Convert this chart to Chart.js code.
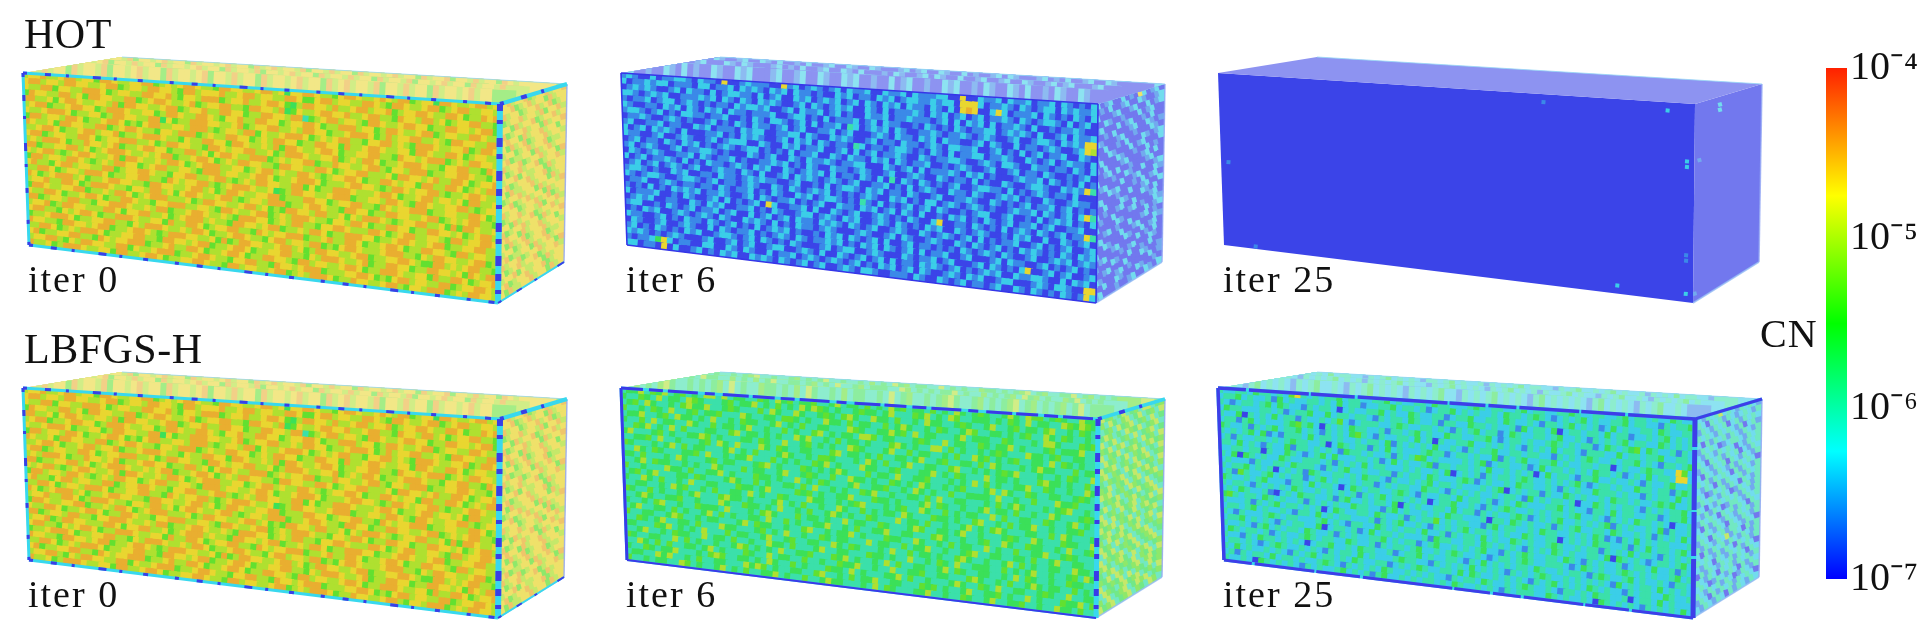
<!DOCTYPE html>
<html><head><meta charset="utf-8">
<script src="https://cdn.jsdelivr.net/npm/chart.js@4/dist/chart.umd.js"></script>
<style>html,body{margin:0;padding:0;background:#fff;overflow:hidden}
#main{position:absolute;left:0;top:0;filter:blur(.55px)}#bar{position:absolute;left:1780px;top:0}</style>
</head><body><canvas id="main" width="1920" height="630"></canvas><canvas id="bar" width="140" height="630"></canvas>
<script>
// Estimated CN levels: each digit L means CN = 10^(-7 + L/3)
const iter0Front=[
"67786678867758876677885676788766588776678867477887665788766787688567748876678867",
"78867768877667885677688776588677786678867766887557886776688765887667885678866776",
"76688577668887567766887786577688856778667887546887768667886778567788766887566878",
"58776688675887766885678876678567788665887768457667887786678866587768867567788665",
"88667578876677685887766788567786688775668877688356788677658876678877566887767885",
"67885667887756888766775688766887657786688775677887566888677568876678856776688766",
"76678887566775688776688475668887766785677886676887756678887568677886676588776688",
"58867768875667887565788667768886567768857667888756767886657788676588876677856887",
"87667588776688567887665776888567668877567688775668877586678876677588766887567766",
"66788756678867785667888766576688775887667685887667887566778866587767888567688776",
"78856776688756778886675688776658876778866756888766778567688756678887665778866587",
"67688875668776785667887756688675788766888567677885668776678865776888566778876657",
"88566778867567888766767885667887567688776658877668875677886667588776786688756778",
"76788656788766785887667688756788866775678867668876567788756688767758866887567688",
"58867768876567688775678866776588867766788756678887566678877656887677886566788766",
"78665788677668856778876657788667886567688776688575668887666788756678867767588667",
"66887567768887566778866587677886567888766745688776678885667768876588766778865677",
"87567888675667887766588776678867568876677885666887756778866587677888566776688756",
"67786688756888766577688675788766788656776888566788766588775668877667885676788665",
"58876677885667688756788866675688776678867565887768866757688876567788667585887667",
"76688756678875668876657788866776588766788567688876657768875668877566887767567886",
"88567768866577888766768856678876676588877567688665778876668875678866776588677887",
"67785688776668875778866756788867665887767885667688756688877566788766788566778866",
"78866576788756688876677586688756778866587677888566786688756678875668877658867766",
"56678887566778866576888766768875667887665788677688565788766678886657688776678856",
"87766588776788566788765688877667585688776678867568877667885667788765588676788665",
"66887567688875667788665887767885667887566778866576888766785668877566887767587688",
"78566778866587677888566786688756678875668877658867766788756688876677586688756778",
"67788657688776688576678885667887665778866587767888566677887565788677668856778876",
"86675688876677588667887566778876658867766788567688875668776678865776888567688776"];
const iter0Top=[
"76786776587767867758776786775677867768577678677586776786776857767867785776786775",
"67857768677586776785776867758676786775867768577678677586776785776867758677678677",
"78677586776857767867758677678677586786776857768677586776786775867785776867758767",
"67758677678577686775867767867758677685776786775867768677586776857767867758677686",
"77686775867768577678677586776785776867758677678677586786776857768677586776786775"];
const iter0Right=[
"7786778567786778","6778567867758677","7867756778678567","8567786776857786","6775867785677867",
"7856778677586778","6787758677867757","7758678567786776","8677567867785667","7785667758678677",
"6867785677867758","7756786778567786","8677857667758677","6785677867785677","7758667786775867",
"8567786775867768","6778567867758677","7867756778678567","8567786776857786","6775867785677867",
"7856778677586778","6787758677867757","7758678567786776","8677567867785667","7785667758678677",
"6867785677867758","7756786778567786","8677857667758677","6785677867785677","7758667786775867"];
const hot6Front=[
"12100201122102110700121110071201210120211200211202111220070021120211201120210102",
"20112122011102201120212102120211010021201102120122112122077720112102101220212112",
"01212100120211020122110201200212012120120210212021102102078700272011120210102102",
"22101212001112120210210212100120210121200210201112102120120120112102101221020120",
"10112012201210101102122120012021120120100211201121110120202120201121020010112100",
"21001102120210212021101112001220102011120120211001021010210112201212102001202112",
"12210120102211011200102102210120201120320121202100112101121012100120012210212177",
"01121001210100120102102110120120011201200012102110212021100120210020110121001276",
"12001120110021201110212200112202100212100120110211012102211200120102012011200210",
"20120212102000112010212100120212021011032011012210102102011220112100210120121102",
"21100120012100120122200210021201120012020120112100210112210012102210021101102102",
"01201102102120101210122010102011200210211021202101120010121001200120110210010120",
"12012100120112210100021012002102112101122000210120201112102120100012112021010201",
"02101210011202101120100112120102100211012100120012100210110201002100122100212173",
"20120112102010211012102120021012120201102102030210210101200122110201012101102000",
"01201201210120012110210200120212101210120011201020121002110210012120100210012110",
"12210100212001102110121211001200102012210212011021001200112100210101201120120101",
"21012210012210120110121002102101212010101210021201022012101210100121120210120273",
"01120012101101102101120102100212012210103102010120120210010122001200102012120102",
"10102010212120112100120210112010120021102120120210200102120102101201120120011200",
"20111200102100120201012072001120200210120012101021002700110210102012102101201173",
"01212001100210212001120102100122012102120012102101021200210121001021200200210120",
"12200102101201120120020120120211021210210120012100210121012020101120012010120012",
"01021200121012102100212102010211012100012100120210012100210210120102121010210212",
"21100120102110210120102012120100102120210120200120110101021012102100120012120121",
"02100120012100202101120101210210112120102120210120201120012000120211001201012010",
"12010210102120012210120210102100012012200121000210112012000120210102700120120012",
"21210101210001200120120012200121020021012012020110212101201012120021122100202120",
"10112472011002200210210020112012101210120102120120210012102120012200012102210077",
"22011070200120102120021210210120120012102210011102100210120110120021021010210172"];
const hot6Top=[
"12020012001002102102010012021020120021020100210012010200120100210021001201002102",
"00120102100210012010021200120200210012010002120012001020210012010200210021001200",
"21000120021001200210200102001200210021000120120021002010012021000120102001200210",
"00210120012000210210001201020012002102000102100120210020012001200210012012000120",
"12001002102010021002120001200120021002120010020120010021200102100210200102100210"];
const hot6Right=[
"2012002010720120","0102001200210012","2000120012002012","0021001000201200","1200020120010200",
"0010200012002101","2100012001000210","0020010200021012","1002100020120002","0200021001002010",
"1020001200012020","0012020010001200","2000100210020012","0120002001200021","0002120001020120",
"1200010020012002","0020002100021020","2010012002000120","0100200012010021","2000021000002012",
"0012010020012010","1200002001200021","0021000210020120","2000120000201020","0120001012000210",
"1000210020010200","0012000200021001","2100012010000201","0020021000210010","1200010012002102"];
const lb6Front=[
"34463546345343663634433543645344533463443534364534435343643454334643655345433644",
"43354363443654333453446343534364654343345443463335463436533444343543634433654654",
"34536433435644633454333536433643345435643364435334364433454334633453443563343543",
"53343543633453445333643344355434336443534433534643343543346533443434533643543343",
"34463345364434363343544334634353344333654334464536344333463444335433343664333545",
"43353634433643353443463343353433563434436653443334543363443354344634333453444633",
"33546343635333443356344343433646334353443433356434336635343343454333644345334433",
"46333453433446534333443543363345343433654333463353443343533645343453344363543433",
"33445363343334536436333643543344333563443435334434633453344353643334346443335344",
"54333434635344333463435333464334355433343643533463344335633434345463334334354336",
"33643543334453633434463335343433546343336443345333446343543336344343335644343353",
"44353334364333453443334563433354343464333534436334453334343635343344633543343364",
"33463544334343364333534433463345433533644343354343643343453334636433543344334543",
"53343336443533446343335443433634354333463344533436434335334444363343353336445333",
"34534633344354333464335343344353633434335463343344353633443334353464333434563343",
"43364353343633443335443463333545343344633354434333463543343346344353343364333454",
"33443343645334353344363433543336443343456333434533643353434433635334433543346343",
"54335343343463335644343334634353343364335343443643335443433563343534463343344533",
"33464334453343336433544343633435334643433543336344353343346343564333443353643334",
"43343563343354443633343564333534434336344335433346533443463343334543364333544336",
"34633443534334635343344363353433446334353344633443335643343345336433544334363345",
"53344334653343443334635443343356334344634333544336433435344336343353344633454333",
"33543463344353336443334534363343354344333634433534463343345633443344353346334433",
"44333546343436333534433463345334433643543334363353443433564334334635343344336443",
"33463343544336344353343364435333463344333544343363343543633444335343463343345364",
"54334433635343343346534343633445333546343343635334433463543344334363543343354433",
"33643535334434634333543363443353343354463343363344533443335643343533464344335343",
"43354344633343565334434364335343335443634333446353343334643354363344334543363344",
"34433646334353344333646534334433563343534463344333545343346334453433634333544635",
"53343443365343346343533446343353346443334363543334463343354334633445334336443533"];
const lb6Top=[
"43453464334543436334534435334346433453434356433434533463435343454345634334534345",
"34534334543633453434453463344353534434334563433443534343634534345433463453343456",
"53346435343343456334334534346334334353436453443363434335443434563453344634534345",
"34433543436443353435346334434534363345344433653434344634335343453645343354634343",
"43534356433434345363433544343536433435344334363453343456433453434563453434534634"];
const lb6Right=[
"3645346345366345","4536435634634536","6345364563453634","3465343654634563","5634634536345634",
"3546356345364536","4635463456435645","5364534635463436","3645634536456345","4563543645634536",
"6435456346356435","3546354635634563","4656345365436345","6345463543645634","3463564356434563",
"5634536456354636","4563645346356445","3645635463534563","6456346354635634","3536456435634536",
"4645363563456345","5364634546345634","3635456354634563","4564356436356345","6435634546354636",
"3546365345635645","5634546363543645","4365435645634536","6536345634656345","3645634563543653"];
const lb25Front=[
"32233243323257323233423322334232233243322234323322342332233432233223423323224322",
"23342322314232233232423312233423323123342323223243323432123234232233423322132334",
"32123323424322132332023223342322432233123342233243223213323423231242322332432233",
"24332223323123342242332332132332432231332243323223142332402332332423312232342323",
"32240323242331322323521233322343223323213234233124322332342232132323423322432323",
"23313423222345342032324332231332342322433223342123323223432323312432345243223132",
"43223132342334232132324532132233242303223342232323213232423321333224233233422332",
"32323424121333242332322323324132323242232132334223323322132323432232334232133234",
"23132233232343322302432331324232223433123323224132342233423223323302322343322752",
"33242321322413323232143323223132354232222323412332231242332323243323123242332772",
"22332330322432123424222332312423223413323323242232323024233213342232232132234223",
"32404323224322333231323242332223232232402323132332343223232342123323224332331343",
"23222132233243332132342232233132332432223431232232433223213232243332322132332423",
"32334232302323143223323243321322323423323222323402323313224323223243323223434223",
"23153223423233123423223233123233224332132323223233214232332302243232332132323342",
"43223234222133242332024323322343213223324233231232432223342322133242332233123342",
"32332132323243223232323132342332323023342232132343223232332342232132324332320223",
"23243223102324332231342232332403232233242331323223431232342232323413232232413223",
"45323324323223132323224332213423223232433222303324323223132342233243223231323242",
"32223132342332323024322332432231323352323322134233223243322323243121324232332223",
"23323423223213324232332223132342232132323423323232243223302323243322313242332342",
"32132223432332223423213322432323324223132332423224323223432232331323242332132323",
"23342323213233224023323124233232223143322332432323213232432322332404323212332342",
"32232134232332432231323223342323312342232323422132343223324321323223123324223132",
"24323323123223432332243223132332342232343223212332343223332124323223432323223423",
"32213243323232023342232433223123342322332132423232332432232332134322342322321332",
"23323212343223232132332423222343322132323242323213232343223232323214232332423232",
"32423223232132342332324322331232343223324243223232321323423232432322132332243223",
"23132332423323223432132323243223232322132332432232343223213323243322302332423222",
"32232043232321323223423231342232323323243223232132333224323223204323232132323242"];
const lb25Top=[
"32342321323234232313232423321323234223213232342312232342321332342321323234232312",
"23213234233231232342323213234232321323234232321332423213234223213234233231232342",
"34232231323242332213234232321332342322313232342332213234223234232231323242332213",
"21323422321323234232313232342322132342323213234232313223423221323422321323234232",
"32321342323213234223213234232321323234221323234232321342323232134232321323422321"];
const lb25Right=[
"3213236232132321","2320323132123213","3132132302313232","1323213232130231","3203132313213213",
"2132320123321323","3213213232021323","1320323132302132","2132132303213213","3203213213132320",
"1323132320313213","3213203132231323","2320132313203213","3132321320132313","1320213232313213",
"3213132013321323","2132320323132032","3203132132132313","1323213203213213","3132032313321320",
"2313213261320313","3203132313213213","1323213132032313","3213203213231320","2031321323132032",
"1321320323132313","3232013213203132","1321323132013213","2132031323132320","3213213203132132"];
// Isolated cells on the nearly uniform HOT iter 25 box: [col, row, level] on a 96x36 / 20x36 grid
const hot25FrontSpots=[[65,1,1],[90,1,2],[94,10,2],[94,11,2],[94,27,1],[94,28,1],[80,34,2],[94,34,2],[1,18,1],[6,35,1]];
const hot25RightSpots=[[7,1,2],[7,2,2],[1,10,1],[0,34,1]];
const hot25Cols=96, hot25Rows=36, hot25RightCols=20;
const rowLabels=["HOT","LBFGS-H"];
const iterLabels=["iter 0","iter 6","iter 25"];
const colorbarTicks=[1e-7,1e-6,1e-5,1e-4];
const colorbarTickLabels=["10\u207B\u2077","10\u207B\u2076","10\u207B\u2075","10\u207B\u2074"];
const colorbarTitle="CN";

// ---- layout / style ----
const BLUE="#3a3fe6", CY="#38d8ee";
const A=[23,73],B=[500,104],C=[498,303],D=[29,245],E=[122,57],F=[567,84],G=[564,262];
const jetStops=[[0,0,0,255],[.25,0,255,255],[.5,0,255,0],[.75,255,255,0],[1,255,32,0]];
const surfaceStops=[[0,0,0,255],[.25,0,255,255],[.5,0,255,0],[.75,255,255,0],[1,255,110,0]];
function jet(t){t=Math.max(0,Math.min(1,t));for(let i=1;i<surfaceStops.length;i++){const a=surfaceStops[i-1],b=surfaceStops[i];
  if(t<=b[0]){const f=(t-a[0])/(b[0]-a[0]);return [1,2,3].map(k=>a[k]+(b[k]-a[k])*f);}}return surfaceStops[4].slice(1);}
function shade(cn,white){const c=jet((Math.log10(cn)+7)/3);
  const f=[59+.682*c[0],68+.61*c[1],48+.72*c[2]].map(v=>Math.round(v+(255-v)*white));
  return `rgb(${f[0]},${f[1]},${f[2]})`;}
const levelToCN=L=>Math.pow(10,-7+L/3);
const lerp=(p,q,t)=>[p[0]+(q[0]-p[0])*t,p[1]+(q[1]-p[1])*t];
const onQuad=(q,u,v)=>{const t=lerp(q[0],q[1],u),b=lerp(q[3],q[2],u),p=lerp(t,b,v);return {x:p[0],y:p[1]};};
const shift=(q,dx,dy)=>q.map(p=>[p[0]+dx,p[1]+dy]);
const datasets=[];
function face(quad,white,grid,spots,sCols,sRows,rot){
  datasets.push({type:'line',order:5,data:[...quad,quad[0]].map(p=>({x:p[0],y:p[1]})),fill:'shape',showLine:true,borderWidth:0,
    backgroundColor:shade(1e-7,white),pointRadius:0});
  const pts=[],cols=[];let size=0;
  if(grid){const R=grid.length;grid.forEach((row,j)=>{const Cn=row.length;for(let i=0;i<Cn;i++){
      pts.push(onQuad(quad,(i+.5)/Cn,(j+.5)/R));cols.push(shade(levelToCN(+row[i]),white));}});
    const w=Math.hypot(quad[1][0]-quad[0][0],quad[1][1]-quad[0][1])/grid[0].length;
    const h=Math.max(Math.hypot(quad[3][0]-quad[0][0],quad[3][1]-quad[0][1]),Math.hypot(quad[2][0]-quad[1][0],quad[2][1]-quad[1][1]))/R;
    size=Math.max(w,h)*1.2;}
  if(spots){spots.forEach(s=>{pts.push(onQuad(quad,(s[0]+.5)/sCols,(s[1]+.5)/sRows));cols.push(shade(levelToCN(s[2]),white));});size=4;}
  if(pts.length)datasets.push({type:'scatter',order:4,data:pts,clipQuad:quad,clip:false,pointStyle:'rect',pointRadius:size/Math.SQRT2,
    pointRotation:rot,pointBorderWidth:0,pointBackgroundColor:cols,showLine:false});
}
function edge(p,q,color,width,dash,order){datasets.push({type:'line',order:order,data:[{x:p[0],y:p[1]},{x:q[0],y:q[1]}],
  borderColor:color,borderWidth:width,borderDash:dash||[],pointRadius:0,fill:false,borderCapStyle:'butt'});}
const DASH1=[4,18,6,15,3,24,8,13,3,21,5,27],DASH2=[7,9,4,14,9,7,5,12,10,8],DASH3=[28,3,60,2,44,3,90,2,36,3],DASH4=[22,6,14,5,30,7,10,8,26,4];
const panels=[
 {dx:0,dy:0,lab:0,row:0,f:iter0Front,t:iter0Top,r:iter0Right,e:'iter0'},
 {dx:598,dy:0,lab:1,row:null,f:hot6Front,t:hot6Top,r:hot6Right,e:'thin'},
 {dx:1195,dy:0,lab:2,row:null,spots:true,e:'none'},
 {dx:0,dy:315,lab:0,row:1,f:iter0Front,t:iter0Top,r:iter0Right,e:'iter0'},
 {dx:598,dy:315,lab:1,row:null,f:lb6Front,t:lb6Top,r:lb6Right,e:'lb6'},
 {dx:1195,dy:315,lab:2,row:null,f:lb25Front,t:lb25Top,r:lb25Right,e:'lb25'}];
panels.forEach(P=>{
  const [a,b,c,d,e,f,g]=shift([A,B,C,D,E,F,G],P.dx,P.dy);
  face([e,f,b,a],.42,P.t,null,0,0,3);
  face([b,f,g,c],.28,P.r,P.spots?hot25RightSpots:null,hot25RightCols,hot25Rows,-15);
  face([a,b,c,d],0,P.f,P.spots?hot25FrontSpots:null,hot25Cols,hot25Rows,5.3);
  edge(e,f,'rgba(150,215,245,.8)',1.2,null,3);edge(f,g,'rgba(150,170,245,.8)',1.5,null,3);edge(g,c,'rgba(150,190,245,.8)',1.5,null,3);
  if(P.e==='iter0'){
    [[a,b,3],[a,d,3],[d,c,3],[b,c,6],[b,f,4],[c,g,2]].forEach(s=>{edge(s[0],s[1],CY,s[2],null,2);
      edge(s[0],s[1],BLUE,s[2],s[2]>4?DASH2:DASH1,1);});
  }else if(P.e==='thin'){
    [[a,b],[a,d],[d,c],[b,c]].forEach(s=>edge(s[0],s[1],'#3636e8',1.6,null,2));
  }else if(P.e==='lb6'){
    [[a,b,3,DASH4],[a,d,3,null],[d,c,2,null],[b,c,5,DASH2],[b,f,3.5,DASH1]].forEach(s=>{edge(s[0],s[1],CY,s[2],null,2);edge(s[0],s[1],'#3a3ae8',s[2],s[3],1);});
  }else if(P.e==='lb25'){
    [[a,b,3.5,DASH3],[a,d,3.5,null],[d,c,3,DASH3],[b,c,5,DASH3],[b,f,3,null]].forEach(s=>{edge(s[0],s[1],CY,s[2],null,2);edge(s[0],s[1],'#3e3ee8',s[2],s[3],1);});
  }
});
const clipPlugin={id:'faceClip',
  beforeDatasetDraw(ch,args){const q=ch.data.datasets[args.index].clipQuad;if(!q)return;const c=ch.ctx,X=ch.scales.x,Y=ch.scales.y;
    c.save();c.beginPath();q.forEach((p,i)=>{const x=X.getPixelForValue(p[0]),y=Y.getPixelForValue(p[1]);i?c.lineTo(x,y):c.moveTo(x,y);});c.closePath();c.clip();},
  afterDatasetDraw(ch,args){if(ch.data.datasets[args.index].clipQuad)ch.ctx.restore();}};
const textPlugin={id:'panelText',afterDraw(ch){const c=ch.ctx;c.save();c.fillStyle='#111';c.textBaseline='alphabetic';
  const FONT='"Liberation Serif"';
  c.font='42px '+FONT;c.letterSpacing='.5px';
  panels.forEach(P=>{if(P.row!==null)c.fillText(rowLabels[P.row],24+P.dx,48+P.dy);});
  c.font='38px '+FONT;c.letterSpacing='2px';
  panels.forEach(P=>{c.fillText(iterLabels[P.lab],28+P.dx,292+P.dy);});
  c.font='40px '+FONT;c.letterSpacing='1px';c.fillText(colorbarTitle,1760,347);
  c.restore();}};
new Chart(document.getElementById('main'),{type:'scatter',data:{datasets},plugins:[clipPlugin,textPlugin],
 options:{responsive:false,animation:false,devicePixelRatio:1,layout:{padding:0,autoPadding:false},
  plugins:{legend:{display:false},tooltip:{enabled:false}},events:[],
  scales:{x:{type:'linear',min:0,max:1920,display:false},y:{type:'linear',min:0,max:630,reverse:true,display:false}}}});
// colour bar
new Chart(document.getElementById('bar'),{type:'bar',
 data:{labels:[colorbarTitle],datasets:[{data:[[colorbarTicks[0],colorbarTicks[3]]],categoryPercentage:1,barPercentage:1,borderWidth:0,
  backgroundColor(ctx){const a=ctx.chart.chartArea;if(!a)return '#00f';const g=ctx.chart.ctx.createLinearGradient(0,a.bottom,0,a.top);
    jetStops.forEach(s=>g.addColorStop(s[0],`rgb(${s[1]},${s[2]},${s[3]})`));return g;}}]},
 options:{responsive:false,animation:false,devicePixelRatio:1,events:[],layout:{padding:{top:68,bottom:51,left:46,right:0},autoPadding:false},
  plugins:{legend:{display:false},tooltip:{enabled:false}},
  scales:{x:{display:false},
   y:{type:'logarithmic',position:'right',min:colorbarTicks[0],max:colorbarTicks[3],
    afterFit(ax){ax.width=73;},
    afterBuildTicks(ax){ax.ticks=colorbarTicks.map(v=>({value:v}));},
    grid:{display:false,drawTicks:false},border:{display:false},
    ticks:{autoSkip:false,padding:3,color:'#111',font:{family:'"Liberation Serif"',size:40},
      callback(v){const i=colorbarTicks.findIndex(t=>Math.abs(t-v)<t*.01);return i<0?'':colorbarTickLabels[i];}}}}}});
</script></body></html>
